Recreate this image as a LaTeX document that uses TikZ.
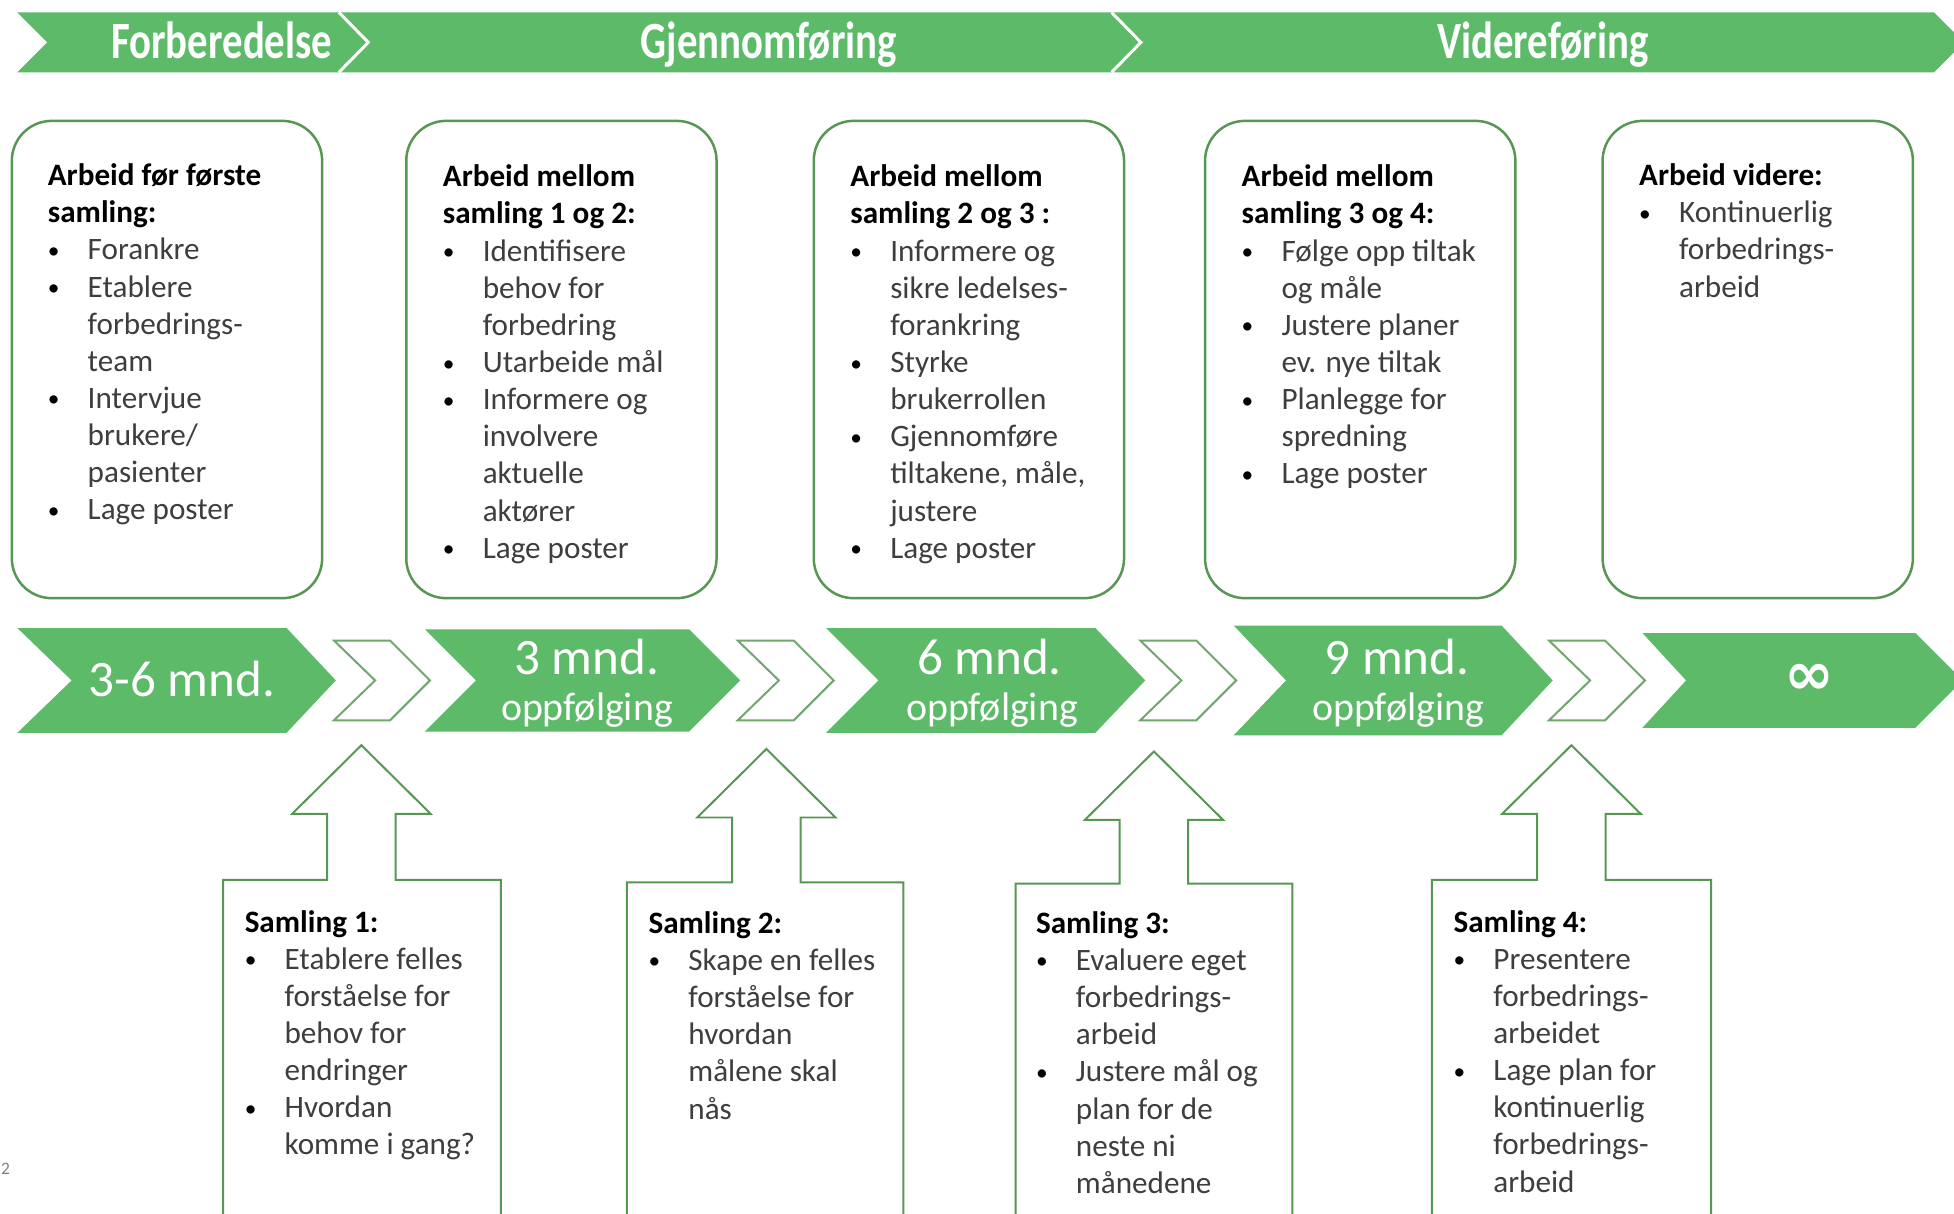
\documentclass[tikz,border=0pt]{standalone}
\usepackage{fontspec}
\usepackage{graphicx}
\setmainfont{Carlito}
\newfontfamily\symfont{DejaVu Sans}

\definecolor{chevgreen}{RGB}{92,186,104}
\definecolor{linegreen}{RGB}{88,150,84}
\definecolor{textgrey}{RGB}{62,62,62}

% title line, bullet and indented line
\newcommand{\hd}[1]{\textcolor{black}{\bfseries #1}}
\newcommand{\bul}{\makebox[16pt][l]{\textcolor{black}{\raisebox{0.6pt}{\scalebox{0.75}{•}}}}}
\newcommand{\ind}{\hspace*{16pt}}

% outline of a "samling" box with its arrow up: left, right, top, tip x, tip y
\newcommand{\samlingpil}[5]{%
  \draw[pilbox] (#1,985) -- (#1,#3) -- (#4-27.5,#3) -- (#4-27.5,#5+55)
    -- (#4-55.5,#5+55) -- (#4,#5) -- (#4+55.5,#5+55) -- (#4+27.5,#5+55)
    -- (#4+27.5,#3) -- (#2,#3) -- (#2,985);}

\begin{document}
\begin{tikzpicture}[x=0.5pt, y=-0.5pt,
  topbox/.style = {draw=linegreen, line width=1pt, fill=white, rounded corners=16pt,
                   minimum width=124.5pt, minimum height=191.5pt, inner sep=0pt},
  boxtext/.style = {anchor=north west, inner sep=0pt, align=left, text=textgrey,
                    font=\fontsize{12.5}{14.9}\selectfont},
  bandtext/.style = {anchor=base, inner sep=0pt, text=white,
                     font=\fontsize{21}{24}\selectfont\bfseries},
  bigtext/.style = {anchor=base, inner sep=0pt, text=white,
                    font=\fontsize{20.5}{24}\selectfont},
  smalltext/.style = {anchor=base, inner sep=0pt, text=white,
                      font=\fontsize{16}{19}\selectfont},
  hollow/.style = {draw=linegreen!85, line width=0.8pt, fill=white},
  pilbox/.style = {draw=linegreen, line width=0.8pt}]

\useasboundingbox (0,0) rectangle (1568,974);
\fill[white] (0,0) rectangle (1568,974);

% phase band
\fill[chevgreen] (14,10) -- (1552,10) -- (1576,34) -- (1552,58) -- (14,58) -- (38,34) -- cycle;
\draw[white, line width=1.2pt] (272,10) -- (295.5,34) -- (272,58);
\draw[white, line width=1.2pt] (892,10) -- (915.5,34) -- (892,58);
\node[bandtext] (forb) at (178,47) {\scalebox{0.78}[1]{Forberedelse}};
\node[bandtext] (gjen) at (617,47) {\scalebox{0.78}[1]{Gjennomføring}};
\node[bandtext] (vide) at (1238,47) {\scalebox{0.78}[1]{Videreføring}};

% work between the meetings
\node[topbox] (prep) at (134,288.5) {};
\node[topbox] (work12) at (450.5,288.5) {};
\node[topbox] (work23) at (777.5,288.5) {};
\node[topbox] (work34) at (1091.5,288.5) {};
\node[topbox] (cont) at (1410.5,288.5) {};

\node[boxtext] (prep-txt) at (38,131) {\hd{Arbeid før første}\\ \hd{samling:}\\
  \bul Forankre\\ \bul Etablere\\ \ind forbedrings-\\ \ind team\\
  \bul Intervjue\\ \ind brukere/\\ \ind pasienter\\ \bul Lage poster};
\node[boxtext] (work12-txt) at (355,132) {\hd{Arbeid mellom}\\ \hd{samling 1 og 2:}\\
  \bul Identifisere\\ \ind behov for\\ \ind forbedring\\ \bul Utarbeide mål\\
  \bul Informere og\\ \ind involvere\\ \ind aktuelle\\ \ind aktører\\ \bul Lage poster};
\node[boxtext] (work23-txt) at (682,132) {\hd{Arbeid mellom}\\ \hd{samling 2 og 3 :}\\
  \bul Informere og\\ \ind sikre ledelses-\\ \ind forankring\\ \bul Styrke\\
  \ind brukerrollen\\ \bul Gjennomføre\\ \ind tiltakene, måle,\\ \ind justere\\
  \bul Lage poster};
\node[boxtext] (work34-txt) at (996,132) {\hd{Arbeid mellom}\\ \hd{samling 3 og 4:}\\
  \bul Følge opp tiltak\\ \ind og måle\\ \bul Justere planer\\ \ind ev. nye tiltak\\
  \bul Planlegge for\\ \ind spredning\\ \bul Lage poster};
\node[boxtext] (cont-txt) at (1315,131) {\hd{Arbeid videre:}\\
  \bul Kontinuerlig\\ \ind forbedrings-\\ \ind arbeid};

% time line
\fill[chevgreen] (14,504) -- (230,504) -- (269.5,546) -- (230,588) -- (14,588) -- (57.5,546) -- cycle;
\fill[chevgreen] (341,505) -- (553,505) -- (594,546) -- (553,587) -- (341,587) -- (382,546) -- cycle;
\fill[chevgreen] (663,504) -- (879,504) -- (919,546) -- (879,588) -- (663,588) -- (705,546) -- cycle;
\fill[chevgreen] (990,502) -- (1205,502) -- (1246,546) -- (1205,590) -- (990,590) -- (1032,546) -- cycle;
\fill[chevgreen] (1318,508) -- (1537,508) -- (1575,546) -- (1537,584) -- (1318,584) -- (1353,546) -- cycle;
\foreach \x in {268,592,915,1243}
  \draw[hollow] (\x,514) -- (\x+45,514) -- (\x+77,546) -- (\x+45,578) -- (\x,578) -- (\x+33,546) -- cycle;

\node[bigtext] (m0) at (146,559) {3-6 mnd.};
\node[bigtext] (m3) at (471,541) {3 mnd.};
\node[smalltext] (m3o) at (471,578) {oppfølging};
\node[bigtext] (m6) at (794,541) {6 mnd.};
\node[smalltext] (m6o) at (796,578) {oppfølging};
\node[bigtext] (m9) at (1121,541) {9 mnd.};
\node[smalltext] (m9o) at (1122,578) {oppfølging};
\node[text=white, inner sep=0pt, font=\symfont\bfseries\fontsize{24}{26}\selectfont] (minf) at (1452,545) {∞};

% the meetings
\samlingpil{179}{402}{706}{290}{598}
\samlingpil{503}{725}{708}{615}{601}
\samlingpil{815}{1037}{709}{926}{603}
\samlingpil{1149}{1373}{706}{1261}{598}

\node[boxtext] (s1) at (196,730) {\hd{Samling 1:}\\
  \bul Etablere felles\\ \ind forståelse for\\ \ind behov for\\ \ind endringer\\
  \bul Hvordan\\ \ind komme i gang?};
\node[boxtext] (s2) at (520,731) {\hd{Samling 2:}\\
  \bul Skape en felles\\ \ind forståelse for\\ \ind hvordan\\ \ind målene skal\\ \ind nås};
\node[boxtext] (s3) at (831,731) {\hd{Samling 3:}\\
  \bul Evaluere eget\\ \ind forbedrings-\\ \ind arbeid\\ \bul Justere mål og\\
  \ind plan for de\\ \ind neste ni\\ \ind månedene};
\node[boxtext] (s4) at (1166,730) {\hd{Samling 4:}\\
  \bul Presentere\\ \ind forbedrings-\\ \ind arbeidet\\ \bul Lage plan for\\
  \ind kontinuerlig\\ \ind forbedrings-\\ \ind arbeid};

\node[anchor=west, inner sep=0pt, text=gray, font=\fontsize{7}{8}\selectfont] (pg) at (0.5,938) {2};
\end{tikzpicture}
\end{document}
